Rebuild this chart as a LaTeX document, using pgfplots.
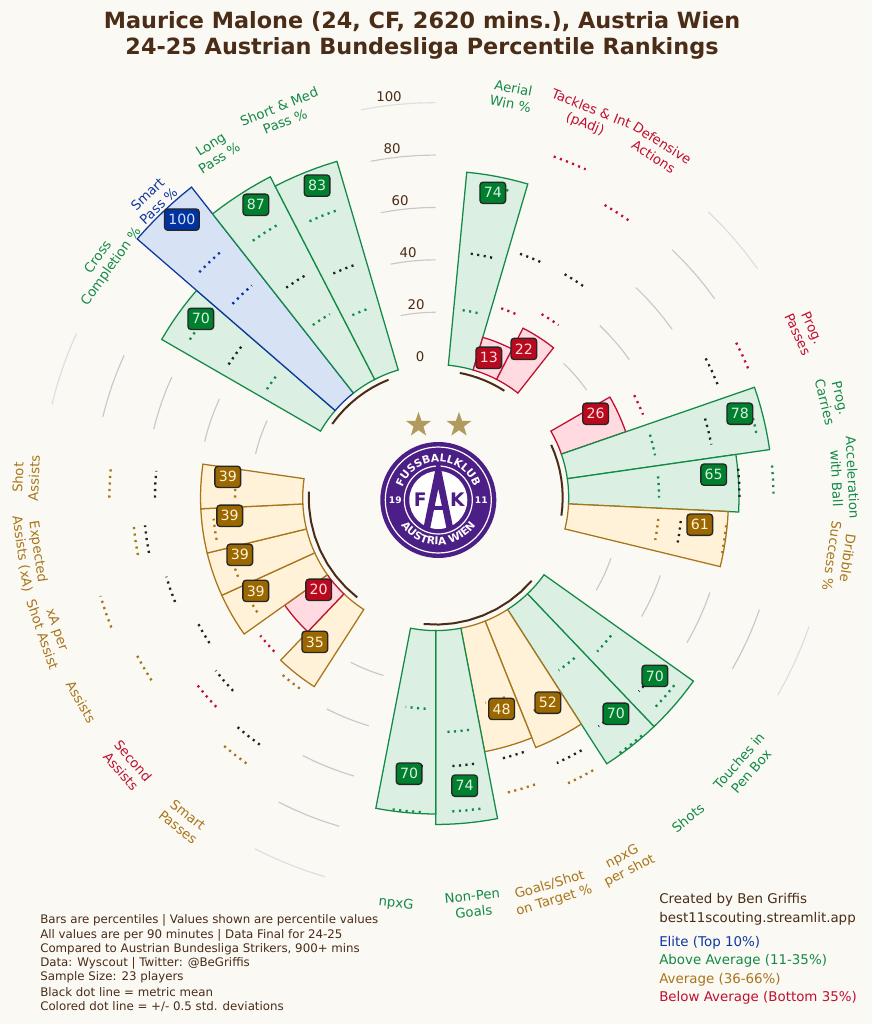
\documentclass[border=0pt]{standalone}
\usepackage{fontspec}
\setmainfont{DejaVu Sans}
\usepackage{pgfplots}
\pgfplotsset{compat=1.18}
\usepgfplotslibrary{polar}
\usetikzlibrary{shapes.geometric,decorations.text}
\definecolor{bgc}{HTML}{FBF9F4}
\definecolor{ink}{HTML}{4A2C17}
\definecolor{gline}{HTML}{138A47}\definecolor{gfill}{HTML}{DBF0E3}\definecolor{gbad}{HTML}{00802F}
\definecolor{aline}{HTML}{A8751A}\definecolor{afill}{HTML}{FFF2D9}\definecolor{abad}{HTML}{9A6700}
\definecolor{rline}{HTML}{BF1030}\definecolor{rfill}{HTML}{FFDAE0}\definecolor{rbad}{HTML}{B80A1E}
\definecolor{eline}{HTML}{0F37A0}\definecolor{efill}{HTML}{D7E3F5}\definecolor{ebad}{HTML}{0033A0}
\definecolor{blk}{HTML}{222222}
\definecolor{gridc}{HTML}{C8C8C8}\definecolor{gridl}{HTML}{DEDEDE}
\definecolor{purp}{HTML}{4B1F85}\definecolor{gold}{HTML}{B19A5E}
\def\off{50.76}
\def\slot{10.90909}
% one bar: slot, percentile, tier letter
\newcommand{\pbar}[3]{%
 \pgfmathsetmacro\ca{90-#1*\slot}%
 \pgfmathsetmacro\rr{#2+\off}%
 \pgfmathsetmacro\ta{\ca-5.4545}\pgfmathsetmacro\tb{\ca-3.6363}\pgfmathsetmacro\tc{\ca-1.8182}%
 \pgfmathsetmacro\td{\ca+1.8182}\pgfmathsetmacro\te{\ca+3.6363}\pgfmathsetmacro\tf{\ca+5.4545}%
 \edef\tmp{\noexpand\addplot[draw=#3line,fill=#3fill,line width=0.95pt,line join=miter] coordinates {(\ta,\off)(\ta,\rr)(\tb,\rr)(\tc,\rr)(\ca,\rr)(\td,\rr)(\te,\rr)(\tf,\rr)(\tf,\off)(\te,\off)(\td,\off)(\ca,\off)(\tc,\off)(\tb,\off)(\ta,\off)} --cycle;}\tmp}
% one dotted reference line: slot, value, colour
\newcommand{\dts}[3]{%
 \pgfmathsetmacro\ca{90-#1*\slot}%
 \pgfmathsetmacro\rr{#2+\off}%
 \pgfmathsetmacro\ta{\ca-2.73}\pgfmathsetmacro\tb{\ca+2.73}%
 \edef\tmp{\noexpand\addplot[draw=#3,line width=1.75pt,dash pattern=on 1.6pt off 3.3pt] coordinates {(\tb,\rr)(\ca,\rr)(\ta,\rr)};}\tmp}
% grid arc between two blank slots
\newcommand{\garc}[3]{%
 \pgfmathsetmacro\ca{90-#1*\slot}%
 \pgfmathsetmacro\rr{#2+\off}%
 \pgfmathsetmacro\ta{\ca-2.7272}\pgfmathsetmacro\tb{\ca-5.4545}\pgfmathsetmacro\tc{\ca-8.1818}\pgfmathsetmacro\td{\ca-10.90909}%
 \edef\tmp{\noexpand\addplot[draw=#3,line width=0.85pt] coordinates {(\ca,\rr)(\ta,\rr)(\tb,\rr)(\tc,\rr)(\td,\rr)};}\tmp}
\newcommand{\gblock}[1]{\garc{#1}{20}{gridc}\garc{#1}{40}{gridc}\garc{#1}{60}{gridc}\garc{#1}{80}{gridc}\garc{#1}{100}{gridl}}
% brown arc under one group: first slot, slot count
\newcommand{\grarc}[2]{%
 \pgfmathsetmacro\ca{90-#1*\slot}%
 \pgfmathsetmacro\tb{\ca-#2*\slot/4}\pgfmathsetmacro\tc{\ca-#2*\slot/2}\pgfmathsetmacro\td{\ca-#2*\slot*3/4}\pgfmathsetmacro\te{\ca-#2*\slot}%
 \pgfmathsetmacro\ma{\ca-#2*\slot/8}\pgfmathsetmacro\mb{\ca-#2*\slot*3/8}\pgfmathsetmacro\mc{\ca-#2*\slot*5/8}\pgfmathsetmacro\md{\ca-#2*\slot*7/8}%
 \edef\tmp{\noexpand\addplot[draw=ink,line width=1.5pt] coordinates {(\ca,48.47)(\ma,48.47)(\tb,48.47)(\mb,48.47)(\tc,48.47)(\mc,48.47)(\td,48.47)(\md,48.47)(\te,48.47)};}\tmp}
\tikzset{
 badge/.style={rectangle,rounded corners=2.4pt,draw=black!85,line width=1pt,inner xsep=2.9pt,inner ysep=0pt,
   minimum height=16pt,xshift=0.6pt,yshift=-0.6pt,font=\fontsize{10.6}{12}\selectfont},
 gb/.style={badge,fill=gbad,text=gfill},ab/.style={badge,fill=abad,text=afill},
 rb/.style={badge,fill=rbad,text=rfill},eb/.style={badge,fill=ebad,text=efill},
 lab/.style={align=center,inner sep=0pt,font=\fontsize{9.95}{12}\selectfont},
 foot/.style={anchor=west,inner sep=0pt,text=ink,font=\fontsize{8.86}{11}\selectfont},
 side/.style={anchor=west,inner sep=0pt,font=\fontsize{10.05}{12}\selectfont},
 rad/.style={inner sep=0pt,text=ink,font=\fontsize{10}{12}\selectfont},
}
\begin{document}
\begin{tikzpicture}[x=0.75pt,y=-0.75pt]
\useasboundingbox[fill=bgc] (0,0) rectangle (872,1024);
\begin{polaraxis}[at={(326.775pt,-373.2pt)},anchor=center,scale only axis,width=628.8pt,height=628.8pt,
  xmin=0,xmax=360,ymin=0,ymax=160,hide axis,clip=false]
% grid
\gblock{4}\gblock{10}\gblock{18}\gblock{26}\gblock{32}
% group arcs
\grarc{1}{2}\grarc{6}{3}\grarc{12}{5}\grarc{20}{5}\grarc{28}{3}
% bars
\pbar{1}{74}{g}\pbar{2}{13}{r}\pbar{3}{22}{r}
\pbar{6}{26}{r}\pbar{7}{78}{g}\pbar{8}{65}{g}\pbar{9}{61}{a}
\pbar{12}{70}{g}\pbar{13}{70}{g}\pbar{14}{52}{a}\pbar{15}{48}{a}\pbar{16}{74}{g}\pbar{17}{70}{g}
\pbar{20}{35}{a}\pbar{21}{20}{r}\pbar{22}{39}{a}\pbar{23}{39}{a}\pbar{24}{39}{a}\pbar{25}{39}{a}
\pbar{28}{70}{g}\pbar{29}{100}{e}\pbar{30}{87}{g}\pbar{31}{83}{g}
% dotted lines: upper, mean, lower
\dts{1}{69.7}{gline}\dts{1}{43.3}{blk}\dts{1}{21.5}{gline}
\dts{2}{87.0}{rline}\dts{2}{47.7}{blk}\dts{2}{25.7}{rline}
\dts{3}{78.2}{rline}\dts{3}{47.7}{blk}\dts{3}{30.1}{rline}
\dts{6}{78.3}{rline}\dts{6}{65.2}{blk}\dts{6}{34.5}{rline}
\dts{7}{74.1}{gline}\dts{7}{56.4}{blk}\dts{7}{34.5}{gline}
\dts{8}{78.2}{gline}\dts{8}{65.2}{blk}\dts{8}{34.5}{gline}
\dts{9}{60.6}{aline}\dts{9}{43.2}{blk}\dts{9}{34.6}{aline}
\dts{12}{65.1}{gline}\dts{12}{56.4}{blk}\dts{12}{34.4}{gline}
\dts{13}{69.4}{gline}\dts{13}{56.4}{blk}\dts{13}{30.2}{gline}
\dts{14}{69.4}{aline}\dts{14}{60.6}{blk}\dts{14}{38.8}{aline}
\dts{15}{65.1}{aline}\dts{15}{52.0}{blk}\dts{15}{29.9}{aline}
\dts{16}{69.2}{gline}\dts{16}{51.9}{blk}\dts{16}{38.8}{gline}
\dts{17}{69.4}{gline}\dts{17}{51.8}{blk}\dts{17}{29.9}{gline}
\dts{20}{73.8}{aline}\dts{20}{65.0}{blk}\dts{20}{38.7}{aline}
\dts{21}{65.0}{rline}\dts{21}{56.1}{blk}\dts{21}{34.4}{rline}
\dts{22}{78.2}{aline}\dts{22}{51.9}{blk}\dts{22}{30.2}{aline}
\dts{23}{82.6}{aline}\dts{23}{56.4}{blk}\dts{23}{30.5}{aline}
\dts{24}{65.0}{aline}\dts{24}{60.7}{blk}\dts{24}{34.4}{aline}
\dts{25}{73.8}{aline}\dts{25}{56.4}{blk}\dts{25}{25.8}{aline}
\dts{28}{60.8}{gline}\dts{28}{43.2}{blk}\dts{28}{25.8}{gline}
\dts{29}{73.9}{eline}\dts{29}{56.4}{ebad}
\dts{30}{69.6}{gline}\dts{30}{47.6}{blk}\dts{30}{30.1}{gline}
\dts{31}{65.2}{gline}\dts{31}{43.3}{blk}\dts{31}{25.8}{gline}
% value badges
\node[gb] at (axis cs:79.56,118.6) {74};
\node[rb] at (axis cs:69.6,57.25) {13};
\node[rb] at (axis cs:59.7,66.1) {22};
\node[rb] at (axis cs:28.0,68.8) {26};
\node[gb] at (axis cs:15.6,120.2) {78};
\node[gb] at (axis cs:4.9,106.2) {65};
\node[ab] at (axis cs:-5.7,101.0) {61};
\node[gb] at (axis cs:-39.1,107.4) {70};
\node[gb] at (axis cs:-50.2,107.0) {70};
\node[ab] at (axis cs:-61.4,88.8) {52};
\node[ab] at (axis cs:-72.8,84.1) {48};
\node[gb] at (axis cs:-84.4,110.2) {74};
\node[gb] at (axis cs:-95.7,105.6) {70};
\node[ab] at (axis cs:-130.3,71.8) {35};
\node[rb] at (axis cs:-142.2,56.9) {20};
\node[ab] at (axis cs:-152.9,77.5) {39};
\node[ab] at (axis cs:-164.0,78.1) {39};
\node[ab] at (axis cs:-175.2,79.2) {39};
\node[ab] at (axis cs:174.1,80.1) {39};
\node[gb] at (axis cs:142.7,113.1) {70};
\node[eb] at (axis cs:132.4,144.1) {100};
\node[gb] at (axis cs:121.6,131.6) {87};
\node[gb] at (axis cs:110.9,127.8) {83};
\end{polaraxis}
% radial scale
\node[rad] at (420,357) {0};
\node[rad] at (416,305) {20};
\node[rad] at (408,253) {40};
\node[rad] at (400,201) {60};
\node[rad] at (392,149) {80};
\node[rad] at (389,97) {100};
% title
\node[align=center,inner sep=0pt,text=ink,font=\fontsize{16.76}{19.6}\selectfont\bfseries] at (422,35.5)
 {Maurice Malone (24, CF, 2620 mins.), Austria Wien\\24-25 Austrian Bundesliga Percentile Rankings};
% metric labels
\node[lab,text=gline,rotate=-10.9] at (512,96) {Aerial\\Win \%};
\node[lab,text=rline,rotate=-21.8] at (588,117) {Tackles \& Int\\(pAdj)};
\node[lab,text=rline,rotate=-32.7] at (658,150) {Defensive\\Actions};
\node[lab,text=rline,rotate=-65.45] at (805,331) {Prog.\\Passes};
\node[lab,text=gline,rotate=-76.4] at (832.5,400) {Prog.\\Carries};
\node[lab,text=gline,rotate=-87.3] at (844.7,478) {Acceleration\\with Ball};
\node[lab,text=aline,rotate=-98.2] at (840,557) {Dribble\\Success \%};
\node[lab,text=gline,rotate=49.1] at (745,766) {Touches in\\Pen Box};
\node[lab,text=gline,rotate=38.2] at (688,818) {Shots};
\node[lab,text=aline,rotate=27.3] at (626,864) {npxG\\per shot};
\node[lab,text=aline,rotate=16.4] at (552,893) {Goals/Shot\\on Target \%};
\node[lab,text=gline,rotate=5.5] at (473,904) {Non-Pen\\Goals};
\node[lab,text=gline,rotate=-5.45] at (396,904) {npxG};
\node[lab,text=aline,rotate=-38.2] at (183,821) {Smart\\Passes};
\node[lab,text=rline,rotate=-49.1] at (127,766) {Second\\Assists};
\node[lab,text=aline,rotate=-60] at (81,702) {Assists};
\node[lab,text=aline,rotate=-70.9] at (50,632) {xA per\\Shot Assist};
\node[lab,text=aline,rotate=-81.8] at (30,553) {Expected\\Assists (xA)};
\node[lab,text=aline,rotate=87.3] at (26,478) {Shot\\Assists};
\node[lab,text=gline,rotate=54.55] at (105,262) {Cross\\Completion \%};
\node[lab,text=eline,rotate=43.6] at (153,200) {Smart\\Pass \%};
\node[lab,text=gline,rotate=32.7] at (215,151) {Long\\Pass \%};
\node[lab,text=gline,rotate=21.8] at (282,114) {Short \& Med\\Pass \%};
% footer
\node[foot] at (40,920.7) {Bars are percentiles | Values shown are percentile values};
\node[foot] at (40,935) {All values are per 90 minutes | Data Final for 24-25};
\node[foot] at (40,949.3) {Compared to Austrian Bundesliga Strikers, 900+ mins};
\node[foot] at (40,963.3) {Data: Wyscout | Twitter: @BeGriffis};
\node[foot] at (40,977.7) {Sample Size: 23 players};
\node[foot] at (40,992) {Black dot line = metric mean};
\node[foot] at (40,1006.3) {Colored dot line = +/- 0.5 std. deviations};
\node[side,text=ink] at (659,900) {Created by Ben Griffis};
\node[side,text=ink] at (659,918.5) {best11scouting.streamlit.app};
\node[side,text=eline] at (659,942.5) {Elite (Top 10\%)};
\node[side,text=gline] at (659,961) {Above Average (11-35\%)};
\node[side,text=aline] at (659,979.5) {Average (36-66\%)};
\node[side,text=rline] at (659,998) {Below Average (Bottom 35\%)};
% stars
\node[star,star points=5,star point ratio=2.5,fill=gold,inner sep=0pt,minimum size=19.5pt] at (418.5,425) {};
\node[star,star points=5,star point ratio=2.5,fill=gold,inner sep=0pt,minimum size=19.5pt] at (459,425) {};
% club crest
\begin{scope}[shift={(438.3,500)},y=0.75pt]
 \fill[purp] (0,0) circle (58);
 \draw[white,line width=0.9pt] (0,0) circle (53);
 \draw[white,line width=0.9pt] (0,0) circle (34);
 \fill[white] (0,0) circle (29);
 \draw[purp,line width=5pt,line join=miter] (-11.5,-28) -- (0,28) -- (11.5,-28);
 \draw[purp,line width=3pt] (-6,-8) -- (6,-8);
 \path[decorate,decoration={text along path,text align=center,text color=white,
   text={|\fontsize{8}{8}\selectfont\bfseries|FUSSBALLKLUB}}] (165:38) arc (165:15:38);
 \path[decorate,decoration={text along path,text align=center,text color=white,
   text={|\fontsize{8}{8}\selectfont\bfseries|AUSTRIA WIEN}}] (198:45) arc (198:342:45);
 \node[text=white,inner sep=0pt,font=\fontsize{6.8}{7}\selectfont\bfseries] at (-43,0) {19};
 \node[text=white,inner sep=0pt,font=\fontsize{6.8}{7}\selectfont\bfseries] at (43,0) {11};
 \node[text=purp,inner sep=0pt,font=\fontsize{14}{14}\selectfont\bfseries] at (-18,0) {F};
 \node[text=purp,inner sep=0pt,font=\fontsize{14}{14}\selectfont\bfseries] at (19,0) {K};
\end{scope}
\end{tikzpicture}
\end{document}
